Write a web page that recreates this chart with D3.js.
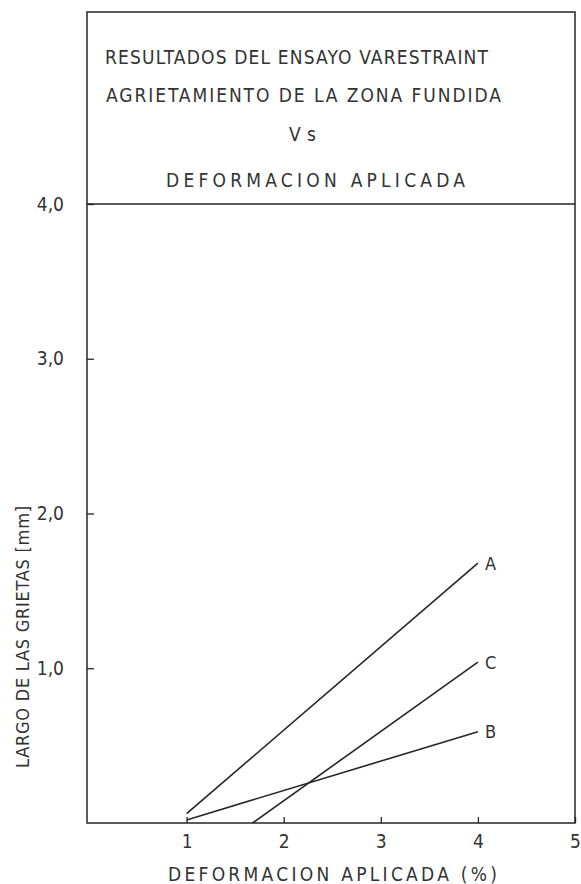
<!DOCTYPE html>
<html>
<head>
<meta charset="utf-8">
<script src="https://cdn.jsdelivr.net/npm/d3@7"></script>
<style>
  html, body { margin: 0; padding: 0; background: #ffffff; }
  svg { display: block; }
  text { font-family: "DejaVu Sans Condensed", "DejaVu Sans", "Liberation Sans", sans-serif; font-stretch: condensed; fill: #333333; }
</style>
</head>
<body>
<svg id="chart" width="581" height="884"></svg>
<script>
// ---- data ----
const titleLines = ["RESULTADOS DEL ENSAYO VARESTRAINT", "AGRIETAMIENTO DE LA ZONA FUNDIDA", "Vs", "DEFORMACION APLICADA"];
const xTicks = [1, 2, 3, 4, 5];
const xTickLabels = ["1", "2", "3", "4", "5"];
const yTicks = [1, 2, 3, 4];
const yTickLabels = ["1,0", "2,0", "3,0", "4,0"];
const xTitle = "DEFORMACION APLICADA (%)";
const yTitle = "LARGO DE LAS GRIETAS [mm]";
const seriesNames = ["A", "B", "C"];
const seriesA = [[1.0, 0.06], [4.0, 1.68]];
const seriesB = [[1.0, 0.02], [4.0, 0.59]];
const seriesC = [[1.68, 0.0], [4.0, 1.04]];

// ---- layout ----
const svg = d3.select("#chart");
const ink = "#262626";
const txt = "#333333";
const fam = "'DejaVu Sans Condensed', 'DejaVu Sans', sans-serif";
const frameL = 87, frameR = 575, frameT = 12, frameB = 823;
const x = d3.scaleLinear().domain([0, 5]).range([89.5, 575]);
const y = d3.scaleLinear().domain([0, 4]).range([frameB, 204]);

// frame
svg.append("rect").attr("x", frameL).attr("y", frameT).attr("width", frameR - frameL).attr("height", frameB - frameT)
  .attr("fill", "none").attr("stroke", ink).attr("stroke-width", 1.5);
// separator at 4,0
svg.append("line").attr("x1", frameL).attr("x2", frameR).attr("y1", y(4)).attr("y2", y(4))
  .attr("stroke", ink).attr("stroke-width", 1.5);

// title block
const titleSpecs = [
  { x: 105, y: 64, w: 383 },
  { x: 106, y: 102, w: 395 },
  { x: 289, y: 141, w: 27 },
  { x: 166, y: 187, w: 299 }
];
titleLines.forEach((t, i) => {
  const s = titleSpecs[i];
  svg.append("text").attr("x", s.x).attr("y", s.y).text(t)
    .attr("font-size", 19).attr("textLength", s.w).attr("lengthAdjust", "spacing");
});

// x axis
const xAxis = d3.axisBottom(x).tickValues(xTicks).tickSize(-6).tickPadding(12)
  .tickFormat((d, i) => xTickLabels[i]);
const gx = svg.append("g").attr("transform", `translate(0,${frameB})`).call(xAxis);
gx.select(".domain").remove();
gx.selectAll("line").attr("stroke", ink).attr("stroke-width", 1.3);
gx.selectAll("text").attr("font-size", 19).attr("fill", txt).attr("font-family", fam);

// y axis
const yAxis = d3.axisLeft(y).tickValues(yTicks).tickSize(-7).tickPadding(23)
  .tickFormat((d, i) => yTickLabels[i]);
const gy = svg.append("g").attr("transform", `translate(${frameL},0)`).call(yAxis);
gy.select(".domain").remove();
gy.selectAll("line").attr("stroke", ink).attr("stroke-width", 1.3);
gy.selectAll("text").attr("font-size", 19).attr("fill", txt).attr("font-family", fam);

// axis titles
svg.append("text").attr("x", 168).attr("y", 881).text(xTitle)
  .attr("font-size", 19).attr("textLength", 329).attr("lengthAdjust", "spacing");
svg.append("text").attr("transform", "translate(29,768) rotate(-90)").text(yTitle)
  .attr("font-size", 18).attr("textLength", 262).attr("lengthAdjust", "spacing");

// series lines
const line = d3.line().x(d => x(d[0])).y(d => y(d[1]));
const allSeries = [seriesA, seriesB, seriesC];
allSeries.forEach((s, i) => {
  svg.append("path").attr("d", line(s)).attr("fill", "none")
    .attr("stroke", ink).attr("stroke-width", 1.6);
  const last = s[s.length - 1];
  svg.append("text").attr("x", x(last[0]) + 7).attr("y", y(last[1]))
    .attr("dy", "0.36em").attr("font-size", 18).text(seriesNames[i]);
});
</script>
</body>
</html>
